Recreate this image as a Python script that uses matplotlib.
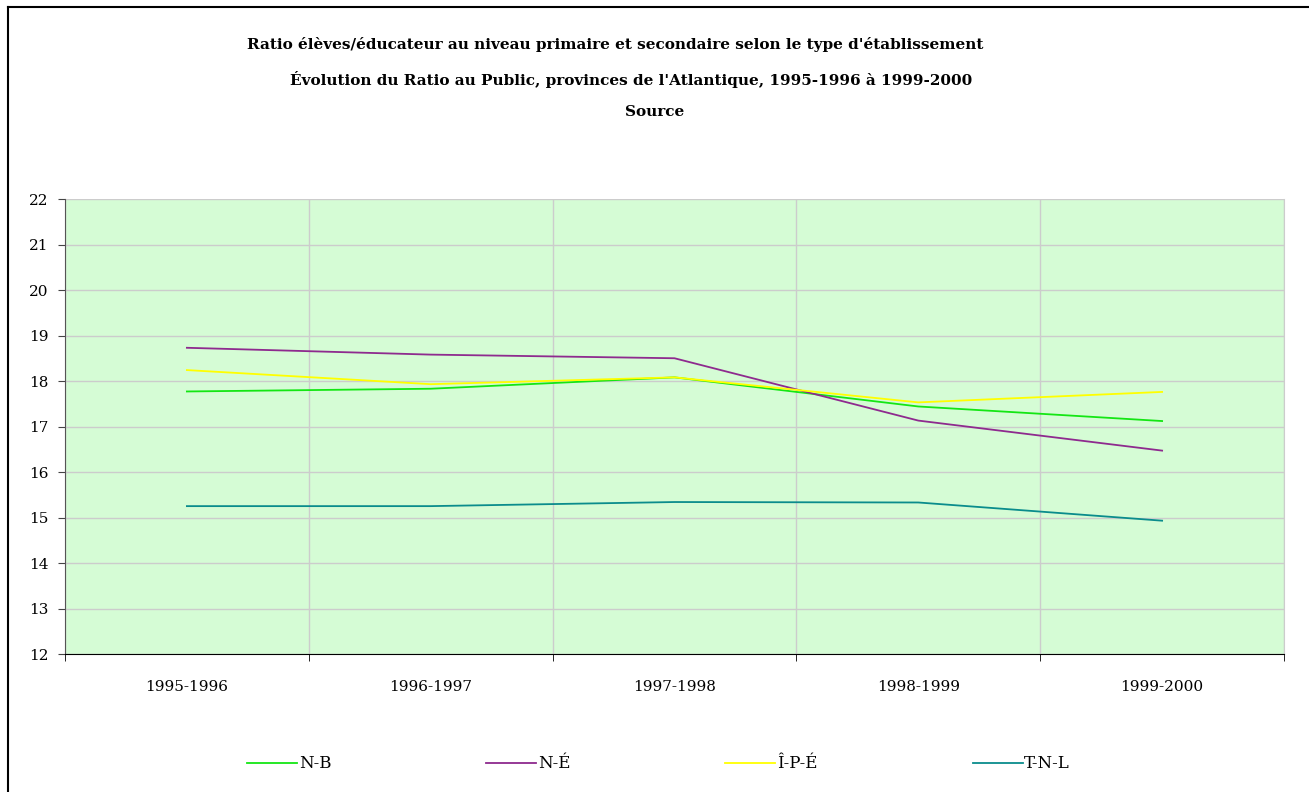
import matplotlib
matplotlib.use('Agg')
import matplotlib.pyplot as plt
from matplotlib.lines import Line2D
import numpy as np

years = ['1995-1996', '1996-1997', '1997-1998', '1998-1999', '1999-2000']
nb = [17.77, 17.83, 18.08, 17.44, 17.12]      # N-B
ne = [18.73, 18.58, 18.50, 17.13, 16.47]      # N-É
ipe = [18.24, 17.93, 18.08, 17.53, 17.76]     # Î-P-É
tnl = [15.25, 15.25, 15.34, 15.33, 14.93]     # T-N-L

series = ['N-B', 'N-É', 'Î-P-É', 'T-N-L']
colors = ['#14e614', '#8e2a8e', '#ffff00', '#0a8c8c']

plt.rcParams['font.family'] = ['DejaVu Serif']

fig = plt.figure(figsize=(13.09, 7.92), dpi=100)
ax = fig.add_axes([65/1309, 1-654/792, (1284-65)/1309, (654-199)/792])
ax.set_facecolor('#d5fcd5')

x = np.arange(len(years))
for vals, c, name in zip([nb, ne, ipe, tnl], colors, series):
    ax.plot(x, vals, color=c, lw=1.3, label=name)

ax.set_xlim(-0.5, 4.5)
ax.set_ylim(12, 22)
ax.set_yticks(range(12, 23))
ax.set_xticks(x)
ax.set_xticklabels(years, fontsize=11)
ax.set_xticks(np.arange(-0.5, 5, 1), minor=True)
ax.tick_params(axis='x', which='major', length=0, pad=19)
ax.tick_params(axis='x', which='minor', length=5, direction='out', color='black')
ax.tick_params(axis='y', length=5, direction='out', labelsize=11, pad=7, color='#444444')
ax.grid(True, axis='y', color='#cccccc', lw=1)
ax.grid(True, axis='x', which='minor', color='#cccccc', lw=1)
ax.set_axisbelow(True)
ax.spines['top'].set_visible(False)
ax.spines['right'].set_color('#cccccc')
ax.spines['left'].set_color('#555555')
ax.spines['bottom'].set_color('black')

fig.text(615/1309, 1-45/792, "Ratio élèves/éducateur au niveau primaire et secondaire selon le type d'établissement",
         ha='center', va='center', fontsize=11, fontweight='bold')
fig.text(631/1309, 1-79/792, "Évolution du Ratio au Public, provinces de l'Atlantique, 1995-1996 à 1999-2000",
         ha='center', va='center', fontsize=11, fontweight='bold')
fig.text(655/1309, 1-112/792, "Source", ha='center', va='center', fontsize=11, fontweight='bold')

handles = [Line2D([0], [0], color=c, lw=1.3) for c in colors]
fig.legend(handles, series, loc='center left', bbox_to_anchor=(232/1309, 1-764/792), ncol=4,
           frameon=False, fontsize=12, handlelength=3.0, handletextpad=0.1, columnspacing=9.3)

# outer frame (top and left only)
fig.add_artist(Line2D([8/1309, 8/1309], [0, 1-7/792], color='black', lw=1.5))
fig.add_artist(Line2D([8/1309, 1], [1-7/792, 1-7/792], color='black', lw=1.5))

fig.savefig('out.png', dpi=100)
